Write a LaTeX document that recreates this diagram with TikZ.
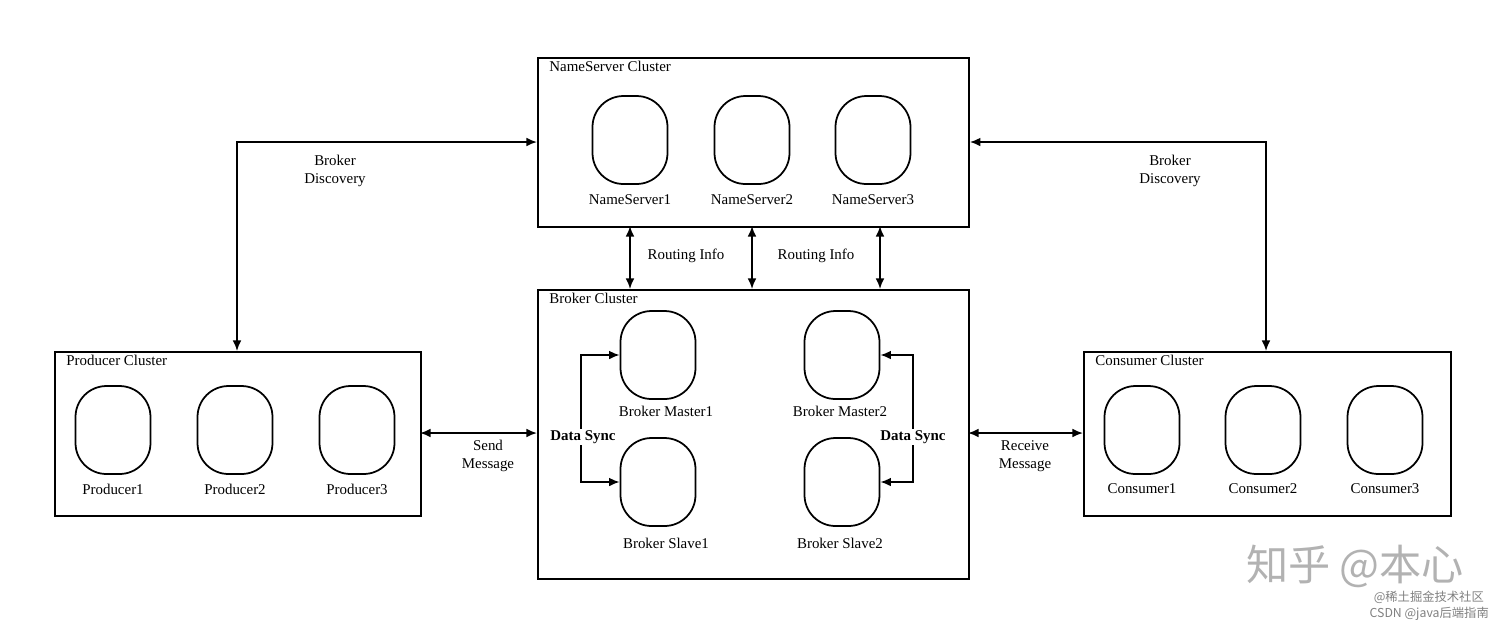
\documentclass[tikz,border=0pt]{standalone}
\usepackage{fontspec}
\setmainfont{Liberation Serif}
\newfontfamily\cjk{Noto Sans CJK SC}
\usetikzlibrary{arrows.meta}
\begin{document}
\begin{tikzpicture}[x=0.02cm,y=-0.02cm,
  every node/.style={font=\fontsize{8.5}{10}\selectfont},
  box/.style={draw,line width=1.1pt,anchor=north west,inner sep=0pt},
  srv/.style={draw,line width=1pt,minimum width=1.5cm,minimum height=1.76cm,rounded corners=0.62cm,inner sep=0pt},
  lbl/.style={align=center,inner sep=1pt},
  ttl/.style={anchor=north west,inner sep=0pt},
  arr/.style={line width=1pt,{Latex[length=6pt,width=5pt]}-{Latex[length=6pt,width=5pt]}}]
\useasboundingbox (0,0) rectangle (1512,627);
% clusters
\node[box,minimum width=8.62cm,minimum height=3.38cm] (ns) at (537,57) {};
\node[ttl] at (549,61) {NameServer Cluster};
\node[box,minimum width=8.62cm,minimum height=5.78cm] (bc) at (537,289) {};
\node[ttl] at (549,293) {Broker Cluster};
\node[box,minimum width=7.32cm,minimum height=3.28cm] (pc) at (54,351) {};
\node[ttl] at (66,355) {Producer Cluster};
\node[box,minimum width=7.34cm,minimum height=3.28cm] (cc) at (1083,351) {};
\node[ttl] at (1095,355) {Consumer Cluster};
% servers
\foreach \n/\x in {1/630,2/752,3/873}{
  \node[srv] (n\n) at (\x,140) {};
  \node at (\x,200) {NameServer\n};}
\foreach \n/\x in {1/113,2/235,3/357}{
  \node[srv] (p\n) at (\x,430) {};
  \node at (\x,489) {Producer\n};}
\foreach \n/\x in {1/1142,2/1263,3/1385}{
  \node[srv] (c\n) at (\x,430) {};
  \node at (\x,489) {Consumer\n};}
\node[srv] (m1) at (658,355) {}; \node at (666,411) {Broker Master1};
\node[srv] (m2) at (842,355) {}; \node at (840,411) {Broker Master2};
\node[srv] (s1) at (658,482) {}; \node at (666,543) {Broker Slave1};
\node[srv] (s2) at (842,482) {}; \node at (840,543) {Broker Slave2};
% coordinates
\coordinate (bl1) at (237,142); \coordinate (bl2) at (1266,142);
% discovery
\draw[arr] (pc.north west -| 237,0) -- (bl1) -- (ns.west |- bl1);
\draw[arr] (ns.east |- bl2) -- (bl2) -- (cc.north west -| 1266,0);
\node[lbl] at (335,171) {Broker\\Discovery};
\node[lbl] at (1170,171) {Broker\\Discovery};
% routing
\foreach \x in {630,752,880}{\draw[arr] (\x,226) -- (\x,289);}
\node at (686,256) {Routing Info};
\node at (816,256) {Routing Info};
% messages
\draw[arr] (420,433) -- (537,433);
\draw[arr] (968,433) -- (1083,433);
\node[lbl] at (488,456) {Send\\Message};
\node[lbl] at (1025,456) {Receive\\Message};
% data sync
\draw[arr] (m1.west) -- (581,355) -- (581,482) -- (s1.west);
\draw[arr] (m2.east) -- (913,355) -- (913,482) -- (s2.east);
\node[font=\fontsize{8.5}{10}\selectfont\bfseries,fill=white,inner sep=1pt] at (583,437) {Data Sync};
\node[font=\fontsize{8.5}{10}\selectfont\bfseries,fill=white,inner sep=1pt] at (913,437) {Data Sync};
% watermarks
\node[text=black!30,font=\cjk\fontsize{24}{26}\selectfont] at (1355,566) {知乎 @本心};
\node[text=black!50,font=\cjk\fontsize{7}{8}\selectfont,anchor=east] at (1490,597) {@稀土掘金技术社区};
\node[text=black!50,font=\cjk\fontsize{7}{8}\selectfont,anchor=east] at (1495,614) {CSDN @java后端指南};
\end{tikzpicture}
\end{document}
